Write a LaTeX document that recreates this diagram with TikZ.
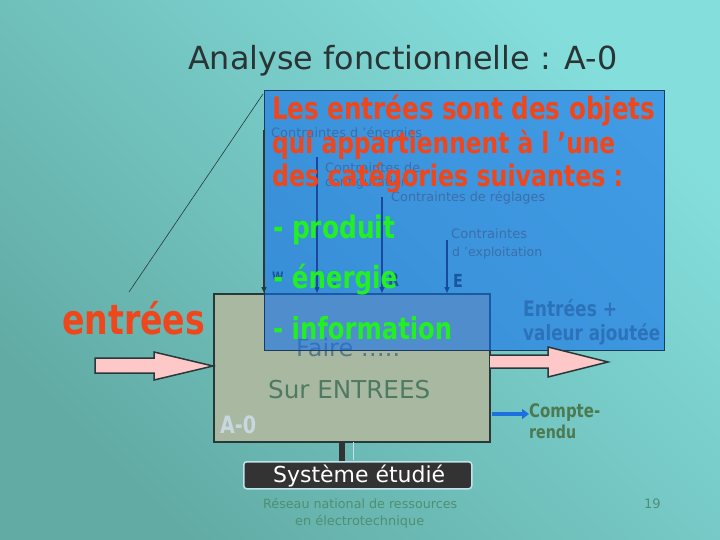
\documentclass[tikz,border=0pt]{standalone}
\usepackage{fontspec}
\setmainfont{DejaVu Sans}[BoldFeatures={FakeStretch=0.8}]
\usepackage{graphicx}
\usetikzlibrary{arrows.meta}
\newcommand{\fitto}[2]{\resizebox{#1}{!}{#2}}
\definecolor{bgL}{HTML}{84DEDC}
\definecolor{bgD}{HTML}{62ABA5}
\definecolor{boxgray}{HTML}{A9B9A1}
\definecolor{boxline}{HTML}{2A3838}
\definecolor{bluefill}{HTML}{1470EB}
\definecolor{blueline}{HTML}{1A3A60}
\definecolor{redtxt}{HTML}{F0461C}
\definecolor{greentxt}{HTML}{22F022}
\definecolor{ctrtxt}{HTML}{3C6EAA}
\definecolor{ctrline}{HTML}{1848A0}
\definecolor{wretxt}{HTML}{1A55A0}
\definecolor{pinkfill}{HTML}{FFC8C8}
\definecolor{fairetxt}{HTML}{587888}
\definecolor{surtxt}{HTML}{4E7A62}
\definecolor{aotxt}{HTML}{C8D8E0}
\definecolor{sysfill}{HTML}{333333}
\definecolor{sysline}{HTML}{C0E4EC}
\definecolor{foottxt}{HTML}{4F8F72}
\definecolor{valtxt}{HTML}{2C72BA}
\definecolor{crtxt}{HTML}{4C7A50}
\definecolor{smallarrow}{HTML}{1E6FE0}
\definecolor{titletxt}{HTML}{2A3434}
\begin{document}
\begin{tikzpicture}[x=1pt,y=-1pt,
  txt/.style={inner sep=0pt, anchor=base west},
  ctr/.style={txt, text=ctrtxt, font=\fontsize{12}{12}\selectfont},
  ctrarrow/.style={draw=ctrline, line width=1.4pt, -{Triangle[length=6pt,width=5pt]}},
  pinkarrow/.style={fill=pinkfill, draw=boxline, line width=1.5pt, line join=miter},
  redline/.style={txt, text=redtxt, font=\fontsize{27}{27}\selectfont\bfseries},
  greenline/.style={txt, text=greentxt, font=\fontsize{27}{27}\selectfont\bfseries}]
\useasboundingbox (0,0) rectangle (720,540);
\shade[top color=bgL, bottom color=bgD, shading angle=-45] (0,0) rectangle (720,540);

% title
\node[txt, text=titletxt, font=\fontsize{30}{30}\selectfont] (title) at (188,70) {\fitto{429pt}{Analyse fonctionnelle : A-0}};

% thin pointer line
\coordinate (pa) at (129,292);
\coordinate (pb) at (263,94);
\draw[boxline, line width=0.6pt] (pa) -- (pb);

% entrees label
\node[txt, text=redtxt, font=\fontsize{34}{34}\selectfont\bfseries] (entrees) at (62,334) {\fitto{143pt}{entrées}};

% A-0 box
\node[draw=boxline, fill=boxgray, line width=2pt, minimum width=276pt, minimum height=148pt, inner sep=0pt, anchor=north west] (a0) at (213,293) {};
\node[txt, text=fairetxt, font=\fontsize{22}{22}\selectfont] (faire) at (296,356) {\fitto{104pt}{Faire …..}};
\node[txt, text=surtxt, font=\fontsize{22}{22}\selectfont] (sur) at (268,398) {\fitto{162pt}{Sur ENTREES}};
\node[txt, text=aotxt, font=\fontsize{20}{20}\selectfont\bfseries] (ao) at (220,433) {\fitto{36pt}{A-0}};

% blue overlay box
\node[draw=blueline, fill=bluefill, fill opacity=0.6, line width=1pt, minimum width=400pt, minimum height=260pt, inner sep=0pt, anchor=north west] (blue) at (264,90) {};

% constraint texts
\node[ctr] (c1) at (271,138) {\fitto{151pt}{Contraintes d 'énergies}};
\node[ctr] (c2a) at (325,173) {\fitto{95pt}{Contraintes de}};
\node[ctr] (c2b) at (325,187) {\fitto{84pt}{configuration}};
\node[ctr] (c3) at (391,202) {\fitto{154pt}{Contraintes de réglages}};
\node[ctr] (c4a) at (451,238) {\fitto{76pt}{Contraintes}};
\node[ctr] (c4b) at (452,256) {\fitto{90pt}{d 'exploitation}};

% constraint arrows
\coordinate (w0) at (264,130);
\coordinate (w1) at (264,293);
\coordinate (g0) at (317,157);
\coordinate (g1) at (317,293);
\coordinate (r0) at (382,197);
\coordinate (r1) at (382,293);
\coordinate (e0) at (447,240);
\coordinate (e1) at (447,293);
\draw[ctrarrow, draw=boxline] (w0) -- (w1);
\draw[ctrarrow] (g0) -- (g1);
\draw[ctrarrow] (r0) -- (r1);
\draw[ctrarrow] (e0) -- (e1);
\node[txt, text=wretxt, font=\fontsize{13}{13}\selectfont\bfseries] (wl) at (272,281) {W};
\node[txt, text=wretxt, font=\fontsize{18}{18}\selectfont\bfseries] (cl) at (326,286) {C};
\node[txt, text=wretxt, font=\fontsize{18}{18}\selectfont\bfseries] (rl) at (388,286) {R};
\node[txt, text=wretxt, font=\fontsize{18}{18}\selectfont\bfseries] (el) at (453,287) {E};

% red and green text
\node[redline] (l1) at (272,120) {\fitto{383pt}{Les entrées sont des objets}};
\node[redline] (l2) at (272,154) {\fitto{343pt}{qui appartiennent à l 'une}};
\node[redline] (l3) at (272,187) {\fitto{351pt}{des catégories suivantes :}};
\node[greenline] (g1t) at (273,238) {\fitto{122pt}{- produit}};
\node[greenline] (g2t) at (273,288) {\fitto{124pt}{- énergie}};
\node[greenline] (g3t) at (273,339) {\fitto{179pt}{- information}};

% output texts
\node[txt, text=valtxt, font=\fontsize{17}{17}\selectfont\bfseries] (v1) at (523,316) {\fitto{94pt}{Entrées +}};
\node[txt, text=valtxt, font=\fontsize{17}{17}\selectfont\bfseries] (v2) at (523,340) {\fitto{137pt}{valeur ajoutée}};

% pink arrows
\draw[pinkarrow] (95,358) -- (154,358) -- (154,352) -- (213,366) -- (154,380) -- (154,373) -- (95,373) -- cycle;
\draw[pinkarrow] (490,355) -- (548,355) -- (548,347) -- (608,362) -- (548,377) -- (548,368) -- (490,368);

% compte-rendu
\coordinate (cr0) at (492,414);
\coordinate (cr1) at (529,414);
\draw[smallarrow, line width=3.5pt, -{Triangle[length=7pt,width=10pt]}] (cr0) -- (cr1);
\node[txt, text=crtxt, font=\fontsize{15}{15}\selectfont\bfseries] (cr1t) at (529,417) {\fitto{71pt}{Compte-}};
\node[txt, text=crtxt, font=\fontsize{15}{15}\selectfont\bfseries] (cr2t) at (529,438) {\fitto{47pt}{rendu}};

% systeme etudie
\node[draw=sysline, fill=sysfill, line width=1.5pt, rounded corners=3pt, minimum width=228pt, minimum height=27pt, inner sep=0pt, anchor=north west] (sys) at (243,461) {};
\node[txt, text=white, font=\fontsize{20}{20}\selectfont] (syst) at (273,482) {\fitto{172pt}{Système étudié}};
\fill[sysfill] (339,442) rectangle (345,461);
\draw[sysline, line width=1pt] (353,442) -- (353,460);

% footer
\node[txt, text=foottxt, font=\fontsize{13}{13}\selectfont] (f1) at (263,508) {\fitto{194pt}{Réseau national de ressources}};
\node[txt, text=foottxt, font=\fontsize{13}{13}\selectfont] (f2) at (295,525) {\fitto{129pt}{en électrotechnique}};
\node[txt, text=foottxt, font=\fontsize{13}{13}\selectfont] (pg) at (644,508) {19};
\end{tikzpicture}
\end{document}
